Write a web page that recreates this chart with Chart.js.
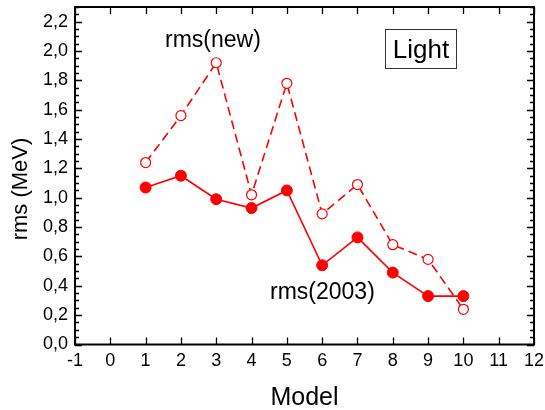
<!DOCTYPE html>
<html>
<head>
<meta charset="utf-8">
<script src="https://cdn.jsdelivr.net/npm/chart.js@4"></script>
<style>
html,body{margin:0;padding:0;background:#fff;}
canvas{display:block;}
</style>
</head>
<body>
<canvas id="c" width="545" height="410"></canvas>
<script>
const models = [1, 2, 3, 4, 5, 6, 7, 8, 9, 10];
const rms2003 = [1.07, 1.15, 0.99, 0.93, 1.05, 0.54, 0.73, 0.49, 0.33, 0.33];
const rmsNew = [1.24, 1.56, 1.92, 1.02, 1.78, 0.89, 1.09, 0.68, 0.58, 0.24];
const yTicks = [0, 0.2, 0.4, 0.6, 0.8, 1.0, 1.2, 1.4, 1.6, 1.8, 2.0, 2.2];
const xTicks = [-1, 0, 1, 2, 3, 4, 5, 6, 7, 8, 9, 10, 11, 12];
const yMinor = [];
for (let i = 0; i <= 46; i++) yMinor.push(i * 0.05);

const FONT = "'Liberation Sans', Arial, sans-serif";
Chart.defaults.color = '#000';
Chart.defaults.font.family = FONT;

const frame = {
  id: 'frame',
  afterDraw(chart) {
    const ctx = chart.ctx, a = chart.chartArea;
    const xs = chart.scales.x, ys = chart.scales.y;
    ctx.save();
    ctx.strokeStyle = '#000';
    ctx.lineWidth = 2;
    ctx.strokeRect(a.left, a.top, a.right - a.left, a.bottom - a.top);
    ctx.lineWidth = 1.3;
    ctx.beginPath();
    xTicks.forEach(v => {
      const px = Math.round(xs.getPixelForValue(v)) + 0.5;
      ctx.moveTo(px, a.bottom); ctx.lineTo(px, a.bottom - 7);
      ctx.moveTo(px, a.top); ctx.lineTo(px, a.top + 7);
    });
    yMinor.forEach((v, i) => {
      const py = Math.round(ys.getPixelForValue(v)) + 0.5;
      const len = (i % 4 === 0) ? 7 : 4;
      ctx.moveTo(a.left, py); ctx.lineTo(a.left + len, py);
      ctx.moveTo(a.right, py); ctx.lineTo(a.right - len, py);
    });
    ctx.stroke();

    ctx.fillStyle = '#000';
    ctx.textBaseline = 'alphabetic';
    ctx.font = '23px ' + FONT;
    ctx.textAlign = 'left';
    ctx.fillText('rms(new)', 165, 46.5);
    ctx.fillText('rms(2003)', 270, 299);
    // Light box
    ctx.lineWidth = 1;
    ctx.strokeStyle = '#333';
    ctx.strokeRect(385.5, 29.5, 71, 39);
    ctx.font = '26px ' + FONT;
    ctx.textAlign = 'center';
    ctx.fillText('Light', 421, 57.5);
    // axis titles
    ctx.font = '25px ' + FONT;
    ctx.fillText('Model', (a.left + a.right) / 2, 405);
    ctx.save();
    ctx.translate(27, 189);
    ctx.rotate(-Math.PI / 2);
    ctx.font = '22px ' + FONT;
    ctx.fillText('rms (MeV)', 0, 0);
    ctx.restore();
    ctx.restore();
  }
};

new Chart(document.getElementById('c'), {
  type: 'line',
  data: {
    datasets: [
      {
        label: 'rms(new)',
        data: models.map((m, i) => ({ x: m, y: rmsNew[i] })),
        borderColor: '#ff0000',
        borderWidth: 1.6,
        borderDash: [9, 5],
        pointRadius: 5,
        pointBorderWidth: 1.2,
        pointBackgroundColor: '#ffffff',
        pointBorderColor: '#ff0000',
        tension: 0,
        fill: false
      },
      {
        label: 'rms(2003)',
        data: models.map((m, i) => ({ x: m, y: rms2003[i] })),
        borderColor: '#ff0000',
        borderWidth: 1.6,
        pointRadius: 5.5,
        pointBorderWidth: 1,
        pointBackgroundColor: '#ff0000',
        pointBorderColor: '#ff0000',
        tension: 0,
        fill: false
      }
    ]
  },
  options: {
    responsive: false,
    animation: false,
    devicePixelRatio: 1,
    layout: { padding: { top: 7, right: 11, left: 0, bottom: 0 } },
    plugins: { legend: { display: false }, tooltip: { enabled: false } },
    scales: {
      x: {
        type: 'linear',
        min: -1, max: 12,
        grid: { display: false, drawTicks: false },
        border: { display: false },
        ticks: { stepSize: 1, padding: 6, font: { size: 18 }, maxRotation: 0, autoSkip: false,
          callback: v => String(v) },
        afterBuildTicks: s => { s.ticks = xTicks.map(v => ({ value: v })); },
        afterFit: s => { s.height = 65.5; s.paddingLeft = 0; s.paddingRight = 0; }
      },
      y: {
        type: 'linear',
        min: 0, max: 2.3,
        grid: { display: false, drawTicks: false },
        border: { display: false },
        ticks: { padding: 7, font: { size: 18 }, autoSkip: false,
          callback: v => v.toFixed(1).replace('.', ',') },
        afterBuildTicks: s => { s.ticks = yTicks.map(v => ({ value: v })); },
        afterFit: s => { s.width = 75; s.paddingTop = 0; s.paddingBottom = 0; }
      }
    }
  },
  plugins: [frame]
});
</script>
</body>
</html>
